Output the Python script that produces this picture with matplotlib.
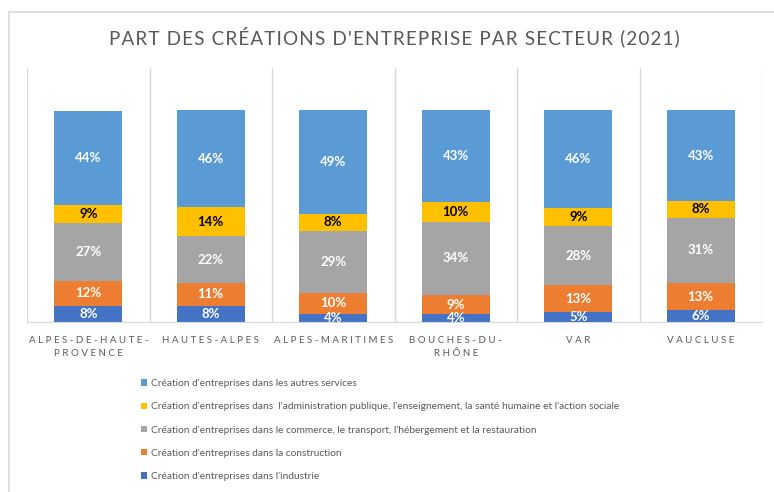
import numpy as np
import matplotlib.pyplot as plt
from matplotlib.patches import Rectangle

# Data ----------------------------------------------------------------------------------------------
departements = ["ALPES-DE-HAUTE-\nPROVENCE", "HAUTES-ALPES", "ALPES-MARITIMES",
                "BOUCHES-DU-\nRHÔNE", "VAR", "VAUCLUSE"]

# parts en %
industrie = [7.6, 7.6, 3.6, 3.6, 4.6, 5.6]
construction = [11.9, 11.0, 10.3, 9.3, 13.0, 12.8]
commerce = [27.1, 21.8, 29.3, 34.2, 27.6, 30.9]
administration = [8.8, 13.9, 7.9, 9.6, 8.7, 7.8]
autres_services = [44.4, 45.7, 48.9, 43.3, 46.1, 42.9]

noms = ["Création d'entreprises dans l'industrie",
        "Création d'entreprises dans la construction",
        "Création d'entreprises dans le commerce, le transport, l'hébergement et la restauration",
        "Création d'entreprises dans  l'administration publique, l'enseignement, la santé humaine et l'action sociale",
        "Création d'entreprises dans les autres services"]

couleurs = ["#4472C4", "#ED7D31", "#A5A5A5", "#FFC000", "#5B9BD5"]
couleurs_texte = ["white", "white", "white", "black", "white"]

titre = "PART DES CRÉATIONS D'ENTREPRISE PAR SECTEUR (2021)"

gris = "#595959"
trait = "#D9D9D9"


def espacer(s, sep=" "):
    # espacement des lettres comme dans Excel
    return "\n".join(sep.join(ligne) for ligne in s.split("\n"))


# Plot ----------------------------------------------------------------------------------------------
plt.rcParams['font.family'] = ['Lato', 'DejaVu Sans']

fig = plt.figure(figsize=(7.74, 4.92), dpi=100)
fig.patches.append(Rectangle((9/774, -0.1), 1.2, 1 - 12/492 + 0.1, transform=fig.transFigure,
                             fill=False, edgecolor=trait, lw=1.2, zorder=-1))

ax = fig.add_axes([27/774, 1 - 322/492, 735/774, 254/492])
ax.patch.set_alpha(0)

x = np.arange(len(departements))
series = [industrie, construction, commerce, administration, autres_services]
bas = np.zeros(len(departements))
handles = []
for vals, nom, c, ct in zip(series, noms, couleurs, couleurs_texte):
    vals = np.array(vals)
    barres = ax.bar(x, vals, 0.555, bottom=bas, color=c, label=nom, zorder=3)
    ax.bar_label(barres, labels=[f"{v:.0f}%" for v in vals], label_type='center',
                 color=ct, fontsize=9.5, fontweight='bold', zorder=4)
    handles.append(barres)
    bas += vals

ax.set_xlim(-0.5, len(departements) - 0.5)
ax.set_ylim(0, 120)
ax.set_yticks([])
ax.set_xticks(x)
ax.set_xticklabels([espacer(d) for d in departements], fontsize=7, color=gris, linespacing=1.55)
ax.set_xticks(np.arange(-0.5, len(departements), 1), minor=True)
ax.tick_params(axis='x', which='both', length=0, pad=10)
ax.grid(axis='x', which='minor', color=trait, lw=1)
for s in ["top", "left", "right"]:
    ax.spines[s].set_visible(False)
ax.spines["bottom"].set_color(trait)
ax.spines["bottom"].set_zorder(5)

fig.text(394/774, 1 - 37/492, espacer(titre, "\u200a"), ha='center', va='center',
         fontsize=13.6, color=gris)

fig.legend(handles[::-1], noms[::-1], loc='upper left', bbox_to_anchor=(132/774, 1 - 370/492),
           frameon=False, fontsize=7.3, labelcolor=gris, handlelength=0.6, handleheight=0.6,
           handletextpad=0.4, labelspacing=1.4)

fig.savefig("out.png", dpi=100)
